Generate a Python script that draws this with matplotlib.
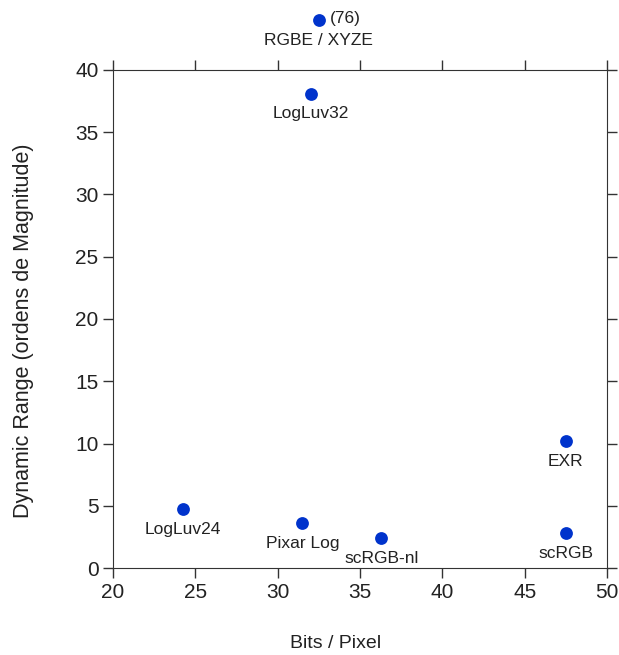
import matplotlib.pyplot as plt

# Dynamic range vs bits per pixel for HDR image encodings

formats = ['RGBE / XYZE', 'LogLuv32', 'LogLuv24', 'Pixar Log', 'scRGB-nl', 'EXR', 'scRGB']
bits = [32.5, 32.0, 24.25, 31.5, 36.3, 47.5, 47.5]
orders = [44.0, 38.1, 4.7, 3.6, 2.4, 10.2, 2.8]
true_orders = ['(76)', '', '', '', '', '', '']

plt.rcParams['font.family'] = ['Liberation Sans', 'DejaVu Sans']
text_color = '#222222'

fig = plt.figure(figsize=(6.19, 6.55), dpi=100)
ax = fig.add_axes([113 / 619, 1 - 568 / 655, 494 / 619, 498 / 655])

ax.scatter(bits, orders, s=85, color='#0033cc', zorder=3, clip_on=False, linewidths=0)

for name, x, y, extra in zip(formats, bits, orders, true_orders):
    ax.annotate(name, (x, y), xytext=(0, -14.5), textcoords='offset points',
                ha='center', va='center', fontsize=12.5, color=text_color,
                annotation_clip=False)
    if extra:
        ax.annotate(extra, (x, y), xytext=(8, 1), textcoords='offset points',
                    ha='left', va='center', fontsize=12.5, color=text_color,
                    annotation_clip=False)

ax.set_xlim(20, 50)
ax.set_ylim(0, 40)
ax.set_xticks(range(20, 51, 5))
ax.set_yticks(range(0, 41, 5))
ax.tick_params(direction='out', top=True, right=True, length=7, width=1,
               labelsize=15, colors='#333333', labelcolor=text_color)
for s in ax.spines.values():
    s.set_color('#333333')

fig.text(335.5 / 619, 1 - 643 / 655, 'Bits / Pixel', ha='center', va='center',
         fontsize=14, color=text_color)
fig.text(24 / 619, 1 - 331 / 655, 'Dynamic Range (ordens de Magnitude)', ha='center',
         va='center', rotation=90, fontsize=15.5, color=text_color)

plt.savefig('out.png')
